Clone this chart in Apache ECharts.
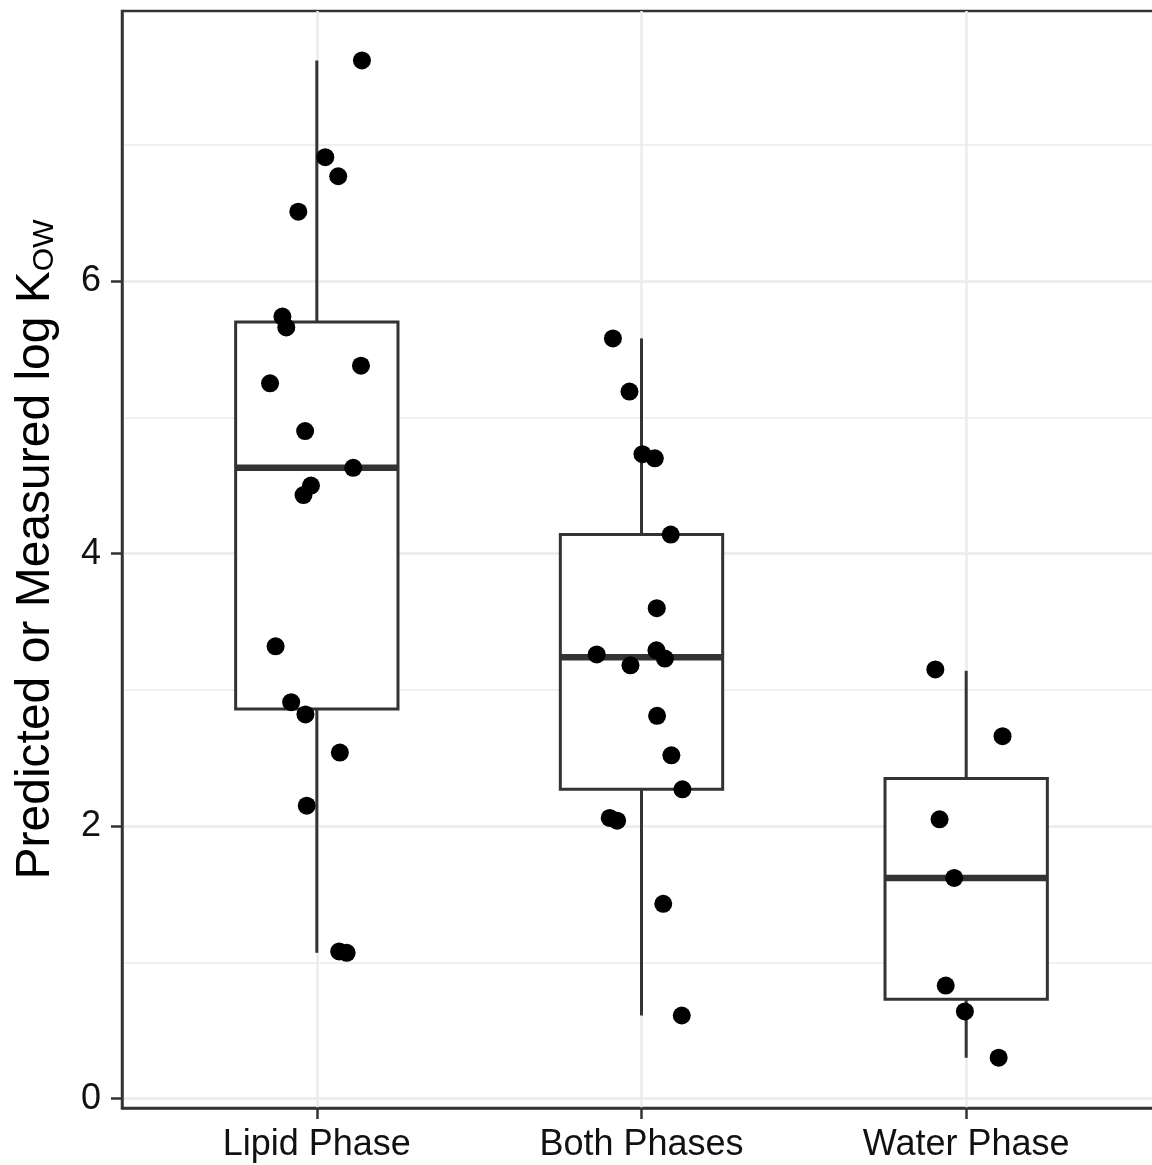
<!DOCTYPE html>
<html lang="en">
<head>
    <meta charset="UTF-8">
    <title>Predicted or Measured log Kow by phase</title>
    <script src="https://cdn.jsdelivr.net/npm/echarts@6.0.0/dist/echarts.min.js"></script>
    <style>
        html, body { margin: 0; padding: 0; background: #fff; overflow: hidden; }
    </style>
</head>
<body>
    <!-- a little wider than the window: the right panel border falls just off the picture -->
    <div id="main" style="width: 1161px; height: 1165px;"></div>
    <script>
        // categories sit at x = 1, 2, 3 on a value axis (ggplot style discrete scale)
        const categories = ['Lipid Phase', 'Both Phases', 'Water Phase'];
        const xTicks = [1, 2, 3];
        const yMajorTicks = [0, 2, 4, 6];
        const yMinorLines = [1, 3, 5, 7];

        // box statistics, one entry per category
        const whiskerLow = [1.07, 0.61, 0.30];
        const q1 = [2.86, 2.27, 0.73];
        const medians = [4.63, 3.24, 1.62];
        const q3 = [5.70, 4.14, 2.35];
        const whiskerHigh = [7.62, 5.58, 3.14];
        const boxWidth = 0.5;

        // jittered points [x, value]
        const lipidPoints = [
            [1.139, 7.62], [1.026, 6.91], [1.066, 6.77], [0.943, 6.51],
            [0.894, 5.74], [0.906, 5.66], [1.136, 5.38], [0.856, 5.25],
            [0.964, 4.90], [1.112, 4.63], [0.982, 4.50], [0.959, 4.43],
            [0.873, 3.32], [0.921, 2.91], [0.965, 2.82], [1.071, 2.54],
            [0.969, 2.15], [1.069, 1.08], [1.092, 1.07]
        ];
        const bothPoints = [
            [1.912, 5.58], [1.963, 5.19], [2.003, 4.73], [2.041, 4.70],
            [2.090, 4.14], [2.047, 3.60], [1.862, 3.26], [2.046, 3.29],
            [2.072, 3.23], [1.966, 3.18], [2.048, 2.81], [2.092, 2.52],
            [2.126, 2.27], [1.902, 2.06], [1.925, 2.04], [2.067, 1.43],
            [2.124, 0.61]
        ];
        const waterPoints = [
            [2.905, 3.15], [3.112, 2.66], [2.918, 2.05], [2.963, 1.62],
            [2.937, 0.83], [2.996, 0.64], [3.100, 0.30]
        ];

        const boxData = xTicks.map(function (x, i) {
            return [x, whiskerLow[i], q1[i], medians[i], q3[i], whiskerHigh[i]];
        });

        const FONT = 'Liberation Sans, Arial, sans-serif';
        const LINE = '#333333';
        const GRID = '#ebebeb';

        function renderBox(params, api) {
            const x = api.value(0);
            const low = api.coord([x, api.value(1)]);
            const lo = api.coord([x, api.value(2)]);
            const med = api.coord([x, api.value(3)]);
            const hi = api.coord([x, api.value(4)]);
            const high = api.coord([x, api.value(5)]);
            const left = api.coord([x - boxWidth / 2, 0])[0];
            const right = api.coord([x + boxWidth / 2, 0])[0];
            const stroke = { stroke: LINE, lineWidth: 3 };
            return {
                type: 'group',
                children: [
                    { type: 'line', shape: { x1: low[0], y1: low[1], x2: lo[0], y2: lo[1] }, style: stroke },
                    { type: 'line', shape: { x1: hi[0], y1: hi[1], x2: high[0], y2: high[1] }, style: stroke },
                    {
                        type: 'rect',
                        shape: { x: left, y: hi[1], width: right - left, height: lo[1] - hi[1] },
                        style: { fill: '#ffffff', stroke: LINE, lineWidth: 3 }
                    },
                    { type: 'line', shape: { x1: left, y1: med[1], x2: right, y2: med[1] }, style: { stroke: LINE, lineWidth: 6.5 } }
                ]
            };
        }

        const chart = echarts.init(document.getElementById('main'));

        const pointStyle = { color: '#000', opacity: 1 };

        const option = {
            backgroundColor: '#ffffff',
            animation: false,
            grid: {
                left: 122, right: 0, top: 11, bottom: 57,
                show: true, borderColor: LINE, borderWidth: 2.5,
                backgroundColor: 'transparent'
            },
            xAxis: {
                type: 'value', min: 0.4, max: 3.6,
                axisLine: { show: true, onZero: false, lineStyle: { color: LINE, width: 2.5 } },
                axisTick: { show: true, length: 11, customValues: xTicks, lineStyle: { color: LINE, width: 2.5 } },
                axisLabel: {
                    customValues: xTicks, margin: 19,
                    fontSize: 36, fontFamily: FONT, color: '#111',
                    formatter: function (v) { return categories[Math.round(v) - 1]; }
                },
                splitLine: { show: true, lineStyle: { color: GRID, width: 2.5 } }
            },
            yAxis: [{
                type: 'value', min: -0.069, max: 7.983,
                name: 'Predicted or Measured log K{sub|OW}',
                nameLocation: 'middle', nameGap: 62, nameRotate: 90,
                nameTextStyle: {
                    fontSize: 48, fontFamily: FONT, color: '#000',
                    padding: [0, 0, 0, 20],
                    rich: { sub: { fontSize: 30, fontFamily: FONT, color: '#000', verticalAlign: 'bottom' } }
                },
                axisLine: { show: true, onZero: false, lineStyle: { color: LINE, width: 2.5 } },
                axisTick: { show: true, length: 11, customValues: yMajorTicks, lineStyle: { color: LINE, width: 2.5 } },
                axisLabel: { customValues: yMajorTicks, margin: 21, fontSize: 36, fontFamily: FONT, color: '#111' },
                splitLine: { show: true, lineStyle: { color: GRID, width: 2.5 } }
            }, {
                // minor grid lines only
                type: 'value', min: -0.069, max: 7.983, position: 'left',
                axisLine: { show: false },
                axisTick: { show: false, customValues: yMinorLines },
                axisLabel: { show: false, customValues: yMinorLines },
                splitLine: { show: true, lineStyle: { color: GRID, width: 1.5 } }
            }],
            series: [{
                type: 'custom',
                renderItem: renderBox,
                data: boxData,
                encode: { x: 0, y: [1, 2, 3, 4, 5] },
                z: 2
            }, {
                type: 'scatter', data: lipidPoints,
                symbolSize: 18, itemStyle: pointStyle, z: 3
            }, {
                type: 'scatter', data: bothPoints,
                symbolSize: 18, itemStyle: pointStyle, z: 3
            }, {
                type: 'scatter', data: waterPoints,
                symbolSize: 18, itemStyle: pointStyle, z: 3
            }]
        };

        chart.setOption(option);
    </script>
</body>
</html>
